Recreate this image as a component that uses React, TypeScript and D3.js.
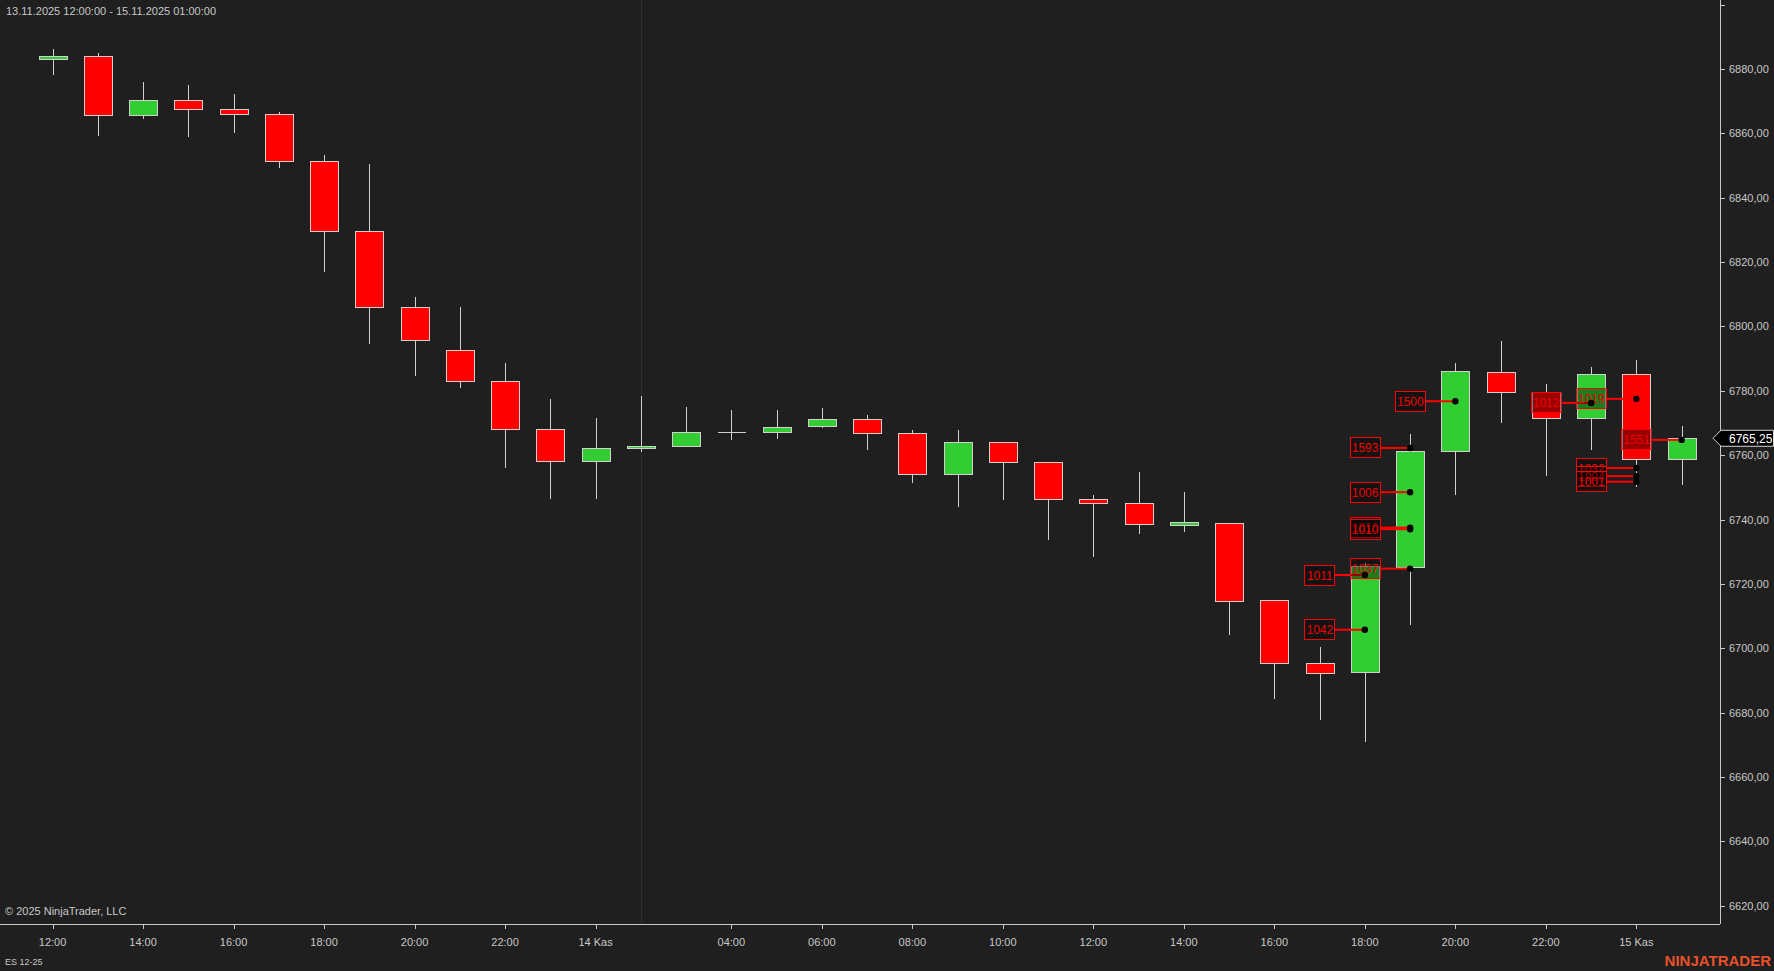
import { scaleLinear, scalePoint, range } from 'd3';

// hourly bars, ES 12-25
const barTimes = [
  '13.11 12:00', '13.11 13:00', '13.11 14:00', '13.11 15:00', '13.11 16:00', '13.11 17:00',
  '13.11 18:00', '13.11 19:00', '13.11 20:00', '13.11 21:00', '13.11 22:00', '13.11 23:00',
  '14.11 00:00', '14.11 01:00', '14.11 02:00', '14.11 04:00', '14.11 05:00', '14.11 06:00',
  '14.11 07:00', '14.11 08:00', '14.11 09:00', '14.11 10:00', '14.11 11:00', '14.11 12:00',
  '14.11 13:00', '14.11 14:00', '14.11 15:00', '14.11 16:00', '14.11 17:00', '14.11 18:00',
  '14.11 19:00', '14.11 20:00', '14.11 21:00', '14.11 22:00', '14.11 23:00', '15.11 00:00',
  '15.11 01:00',
];
const opens = [6883, 6884, 6865.5, 6870.25, 6867.5, 6866, 6851.25, 6829.5, 6806, 6792.5, 6782.75, 6768, 6758, 6762, 6762.75, 6767, 6767, 6769, 6771, 6766.75, 6754, 6764, 6757.75, 6746.25, 6745, 6738.25, 6738.75, 6714.75, 6695.25, 6692.5, 6725, 6761, 6785.75, 6779.5, 6771.25, 6785, 6758.5];
const highs = [6886.25, 6885, 6876, 6875, 6872.25, 6866.5, 6853.25, 6850.5, 6809, 6806, 6788.5, 6777.5, 6771.5, 6778.5, 6775, 6774, 6774, 6774.75, 6772.5, 6767.75, 6767.75, 6764, 6758, 6747.5, 6754.75, 6748.5, 6738.75, 6714.75, 6700.5, 6726.5, 6766.5, 6788.5, 6795.5, 6782, 6787.5, 6789.5, 6769];
const lows = [6878.25, 6859.25, 6864.5, 6858.75, 6860, 6849.25, 6817, 6794.5, 6784.5, 6780.75, 6756, 6746.25, 6746.25, 6761, 6762.75, 6764.75, 6765, 6768.5, 6761.5, 6751.5, 6743.75, 6746, 6733.5, 6728.5, 6735.5, 6736, 6704.25, 6684.25, 6677.75, 6670.75, 6707.25, 6747.5, 6770, 6753.5, 6761.5, 6750, 6750.75];
const closes = [6884, 6865.5, 6870.25, 6867.5, 6866, 6851.25, 6829.5, 6806, 6795.5, 6782.75, 6768, 6758, 6762, 6762.75, 6767, 6767, 6768.5, 6771, 6766.75, 6754, 6764, 6757.75, 6746.25, 6745, 6738.5, 6739, 6714.5, 6695.25, 6692.25, 6725.25, 6761.25, 6786, 6779.5, 6771.25, 6785, 6758.5, 6765.25];

const xTickTimes = ['13.11 12:00', '13.11 14:00', '13.11 16:00', '13.11 18:00', '13.11 20:00', '13.11 22:00', '14.11 00:00', '14.11 04:00', '14.11 06:00', '14.11 08:00', '14.11 10:00', '14.11 12:00', '14.11 14:00', '14.11 16:00', '14.11 18:00', '14.11 20:00', '14.11 22:00', '15.11 00:00'];
const xTickLabels = ['12:00', '14:00', '16:00', '18:00', '20:00', '22:00', '14 Kas', '04:00', '06:00', '08:00', '10:00', '12:00', '14:00', '16:00', '18:00', '20:00', '22:00', '15 Kas'];
const yTickValues = range(6620, 6901, 20);

// order flow markers (label, bar, price)
const markerLabels = ['1500', '1593', '1006', '1010', '1010', '1011', '1037', '1042', '1012', '1019', '1551', '1032', '1004', '1001'];
const markerBars = ['14.11 20:00', '14.11 19:00', '14.11 19:00', '14.11 19:00', '14.11 19:00', '14.11 18:00', '14.11 19:00', '14.11 18:00', '14.11 23:00', '15.11 00:00', '15.11 01:00', '15.11 00:00', '15.11 00:00', '15.11 00:00'];
const markerPrices = [6776.75, 6762.25, 6748.5, 6737.5, 6737, 6722.75, 6724.75, 6705.75, 6776.25, 6777.5, 6764.75, 6756, 6753.5, 6751.75];

const sessionBreak = '14.11 01:00';
const lastPrice = 6765.25;

const W = 1774;
const H = 971;
const axisX = 1720;
const axisY = 924;
const bg = '#1f1f1f';
const fg = '#c8c8c8';
const font = '"Liberation Sans", Arial, sans-serif';

const fmt = (v: number) => v.toFixed(2).replace('.', ',');

export default function App() {
  const x = scalePoint<string>().domain(barTimes).range([52.6, 1681.6]);
  const y = scaleLinear().domain([6620, 6880]).range([905.7, 69]);
  const half = 14;

  const candles = barTimes.map((t, i) => ({ t, o: opens[i], h: highs[i], l: lows[i], c: closes[i] }));
  const markers = markerLabels.map((label, i) => ({ label, t: markerBars[i], p: markerPrices[i] }));

  return (
    <svg width={W} height={H} style={{ position: 'fixed', left: 0, top: 0, display: 'block', background: bg }}>
      <rect x={0} y={0} width={W} height={H} fill={bg} />

      {/* session break */}
      <line x1={Math.round(x(sessionBreak)!) + 0.5} x2={Math.round(x(sessionBreak)!) + 0.5} y1={0} y2={axisY} stroke="#2e2e2e" strokeWidth={1} />

      <text x={6} y={15} fill={fg} fontFamily={font} fontSize={11}>13.11.2025 12:00:00 - 15.11.2025 01:00:00</text>

      {/* candles */}
      <g shapeRendering="crispEdges">
        {candles.map(d => {
          const cx = Math.round(x(d.t)!) + 0.5;
          const top = y(Math.max(d.o, d.c));
          const bot = y(Math.min(d.o, d.c));
          return (
            <g key={d.t}>
              <line x1={cx} x2={cx} y1={y(d.h)} y2={y(d.l)} stroke="#d0d0d0" strokeWidth={1} />
              {d.o === d.c ? (
                <line x1={cx - half} x2={cx + half} y1={top} y2={top} stroke="#d0d0d0" strokeWidth={1} />
              ) : (
                <rect x={cx - half} y={top} width={half * 2} height={Math.max(bot - top, 1)}
                  fill={d.c > d.o ? '#32cd32' : '#ff0000'} stroke="#d0d0d0" strokeWidth={1} />
              )}
            </g>
          );
        })}
      </g>

      {/* markers: lines, boxes, dots */}
      <g>
        {markers.map((m, i) => {
          const cx = x(m.t)!;
          return <line key={'l' + i} x1={cx - 30} x2={cx} y1={y(m.p)} y2={y(m.p)} stroke="#ff0000" strokeWidth={2} />;
        })}
        {markers.map((m, i) => {
          const cx = x(m.t)!;
          const cy = y(m.p);
          return (
            <g key={'b' + i}>
              <rect x={cx - 60} y={cy - 10} width={30} height={20} fill="#000" fillOpacity={0.4} stroke="#ff0000" strokeWidth={1} shapeRendering="crispEdges" />
              <text x={cx - 45} y={cy + 4.5} textAnchor="middle" fill="#f00000" fontFamily={font} fontSize={12}>{m.label}</text>
            </g>
          );
        })}
        {markers.map((m, i) => (
          <circle key={'d' + i} cx={x(m.t)!} cy={y(m.p)} r={3.2} fill="#000" />
        ))}
      </g>

      {/* y axis */}
      <g shapeRendering="crispEdges">
        <line x1={axisX + 0.5} x2={axisX + 0.5} y1={0} y2={axisY} stroke={fg} />
        {yTickValues.map(v => (
          <line key={v} x1={axisX} x2={axisX + 5} y1={Math.round(y(v)) + 0.5} y2={Math.round(y(v)) + 0.5} stroke={fg} />
        ))}
      </g>
      {yTickValues.filter(v => v <= 6880).map(v => (
        <text key={v} x={1729} y={y(v) + 4} fill={fg} fontFamily={font} fontSize={11}>{fmt(v)}</text>
      ))}

      {/* last price marker */}
      <g>
        <path d={`M${1713},${y(lastPrice)} L${1721},${y(lastPrice) - 8} L${1773.5},${y(lastPrice) - 8} L${1773.5},${y(lastPrice) + 8} L${1721},${y(lastPrice) + 8} Z`}
          fill="#000" stroke="#d8d8d8" strokeWidth={1} />
        <text x={1729} y={y(lastPrice) + 4.5} fill="#fff" fontFamily={font} fontSize={12}>{fmt(lastPrice)}</text>
      </g>

      {/* x axis */}
      <g shapeRendering="crispEdges">
        <line x1={0} x2={axisX} y1={axisY + 0.5} y2={axisY + 0.5} stroke={fg} />
        {xTickTimes.map(t => (
          <line key={t} x1={Math.round(x(t)!) + 0.5} x2={Math.round(x(t)!) + 0.5} y1={axisY} y2={axisY + 5} stroke={fg} />
        ))}
      </g>
      {xTickTimes.map((t, i) => (
        <text key={t} x={x(t)!} y={946} textAnchor="middle" fill={fg} fontFamily={font} fontSize={11}>{xTickLabels[i]}</text>
      ))}

      <text x={5} y={915} fill={fg} fontFamily={font} fontSize={11}>© 2025 NinjaTrader, LLC</text>
      <text x={5} y={965} fill={fg} fontFamily={font} fontSize={9}>ES 12-25</text>
      <text x={1771} y={966} textAnchor="end" fill="#e8502a" fontFamily={font} fontSize={15} fontWeight="bold">NINJATRADER</text>
    </svg>
  );
}
